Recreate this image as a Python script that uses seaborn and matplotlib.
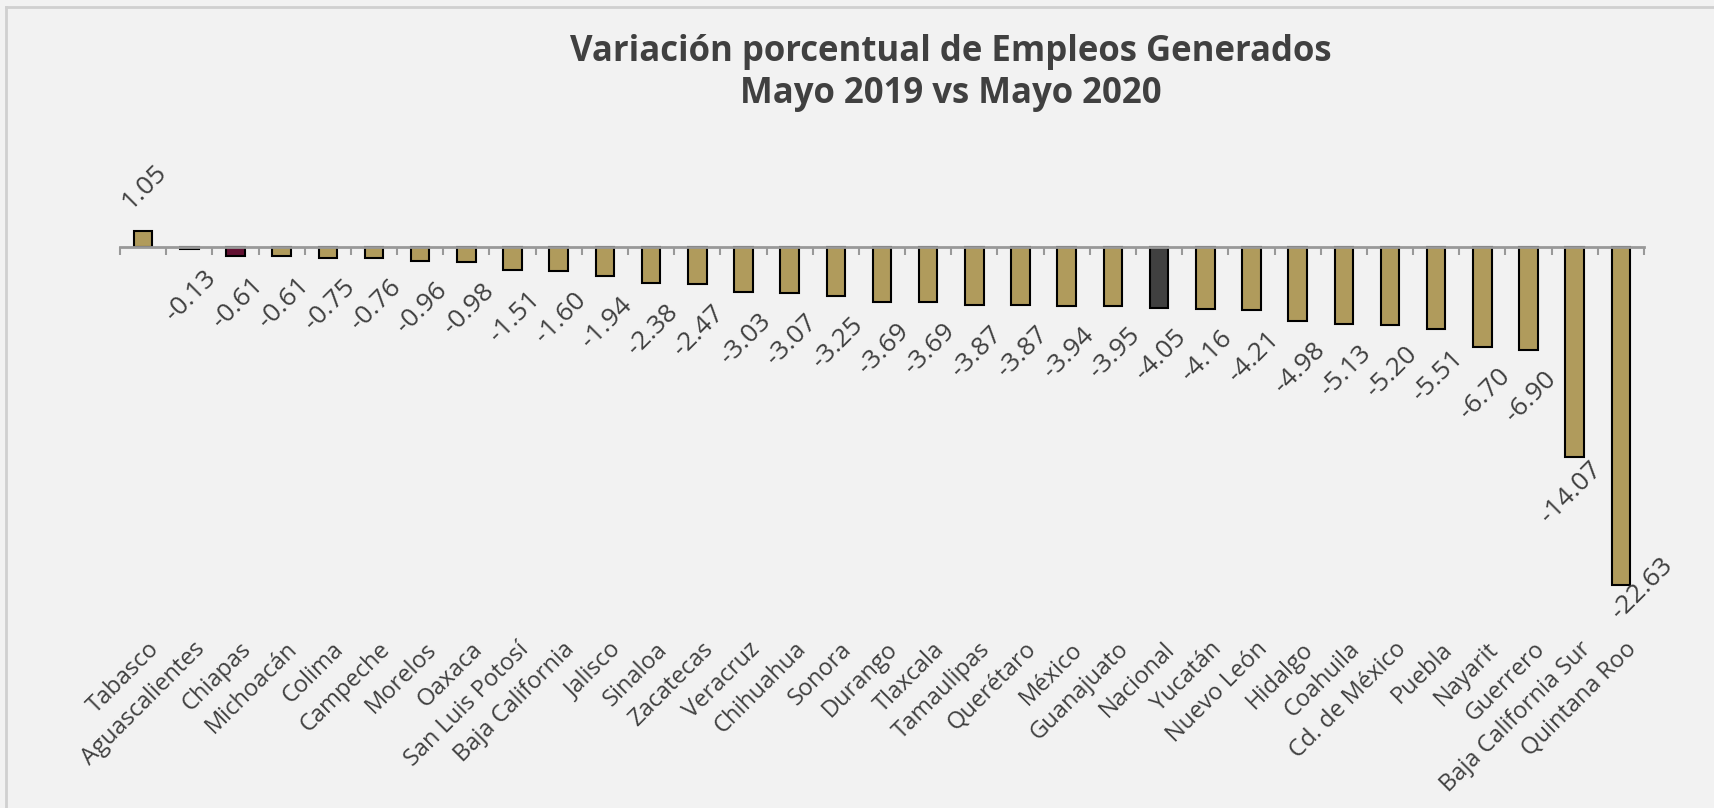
import numpy as np
import pandas as pd
import matplotlib
matplotlib.use("Agg")
import matplotlib.pyplot as plt
from matplotlib.lines import Line2D
import seaborn as sns

# data
estados = ["Tabasco", "Aguascalientes", "Chiapas", "Michoacán", "Colima", "Campeche",
           "Morelos", "Oaxaca", "San Luis Potosí", "Baja California", "Jalisco", "Sinaloa",
           "Zacatecas", "Veracruz", "Chihuahua", "Sonora", "Durango", "Tlaxcala",
           "Tamaulipas", "Querétaro", "México", "Guanajuato", "Nacional", "Yucatán",
           "Nuevo León", "Hidalgo", "Coahuila", "Cd. de México", "Puebla", "Nayarit",
           "Guerrero", "Baja California Sur", "Quintana Roo"]
variacion = [1.05, -0.13, -0.61, -0.61, -0.75, -0.76, -0.96, -0.98, -1.51, -1.60, -1.94,
             -2.38, -2.47, -3.03, -3.07, -3.25, -3.69, -3.69, -3.87, -3.87, -3.94, -3.95,
             -4.05, -4.16, -4.21, -4.98, -5.13, -5.20, -5.51, -6.70, -6.90, -14.07, -22.63]
destacados = {"Chiapas": "#621132", "Nacional": "#404040"}

titulo = "Variación porcentual de Empleos Generados\nMayo 2019 vs Mayo 2020"

df = pd.DataFrame({"estado": estados, "valor": variacion})
oro = "#b09b5c"
paleta = {e: destacados.get(e, oro) for e in estados}

bg = "#f2f2f2"
texto = "#404040"
fuente = "Open Sans"

fig = plt.figure(figsize=(17.15, 8.08), dpi=100, facecolor=bg)
W, H = 1715, 808
# zero line at y=247px, ~14.94 px per unit
ymin, ymax = -26, 4
ppu = 14.94
top_px = 247 - ymax * ppu
bot_px = 247 - ymin * ppu
ax = fig.add_axes([120 / W, 1 - bot_px / H, (1644 - 120) / W, (bot_px - top_px) / H])
ax.set_facecolor(bg)

sns.barplot(data=df, x="estado", y="valor", hue="estado", palette=paleta, legend=False,
            width=0.4, edgecolor="black", linewidth=1.5, saturation=1, ax=ax)

n = len(estados)
ax.set_xlim(-0.5, n - 0.5)
ax.set_ylim(ymin, ymax)
for s in ["top", "right", "left"]:
    ax.spines[s].set_visible(False)
ax.spines["bottom"].set_position(("data", 0))
ax.spines["bottom"].set_color("#999999")
ax.spines["bottom"].set_linewidth(2)
ax.set_yticks([])
ax.set_xticks(np.arange(n))
ax.set_xticklabels([])
ax.tick_params(axis="x", which="major", length=0)
ax.set_xticks(np.arange(n + 1) - 0.5, minor=True)
ax.tick_params(axis="x", which="minor", length=6, width=1.5, color="#999999", direction="out")
ax.set_xlabel("")
ax.set_ylabel("")

# value labels
for i, v in enumerate(variacion):
    if v > 0:
        off = (1, 44)
    elif v < -20:
        off = (21, -4)
    elif v < -10:
        off = (-4, -35)
    else:
        off = (2, -47)
    ax.annotate(f"{v:.2f}", xy=(i, v), xytext=off, textcoords="offset pixels",
                ha="center", va="center", rotation=45, fontsize=19,
                family=fuente, color=texto, annotation_clip=False)

# category labels
for i, e in enumerate(estados):
    ax.annotate(e, xy=(i, 0), xycoords=ax.get_xaxis_transform(), xytext=(4, -2),
                textcoords="offset pixels", ha="right", va="top", rotation=45,
                rotation_mode="anchor", fontsize=17, family=fuente, color=texto,
                annotation_clip=False)

fig.text(951 / W, 1 - 73 / H, titulo, ha="center", va="center", fontsize=25,
         fontweight="bold", family=fuente, color=texto, linespacing=1.25)

# light frame lines
fig.add_artist(Line2D([6 / W, 1], [1 - 7 / H, 1 - 7 / H], color="#d0d0d0", lw=2))
fig.add_artist(Line2D([6 / W, 6 / W], [0, 1 - 7 / H], color="#d0d0d0", lw=2))

fig.savefig("out.png", dpi=100, facecolor=bg)
